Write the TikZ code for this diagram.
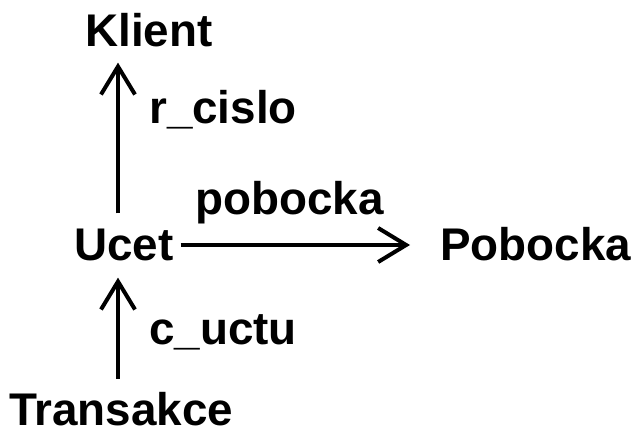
\documentclass[tikz,border=0pt]{standalone}
\usepackage{fontspec}
\setmainfont{Liberation Sans}
\usetikzlibrary{arrows.meta}
\begin{document}
\begin{tikzpicture}[x=1pt,y=1pt,
  lbl/.style={inner sep=0pt, anchor=base west, font=\fontsize{45.8}{50}\selectfont\bfseries},
  arr/.style={line width=4pt, -{Straight Barb[length=28pt,width=34pt,line width=4pt]}}]
\useasboundingbox (0,0) rectangle (634,431);
\node[lbl] (klient) at (85,384) {Klient};
\node[lbl] (rcislo) at (149,307) {r\_cislo};
\node[lbl] (pobl) at (195,216) {pobocka};
\node[lbl] (ucet) at (74,170) {Ucet};
\node[lbl] (pobocka) at (440,170) {Pobocka};
\node[lbl] (cuctu) at (149,86) {c\_uctu};
\node[lbl] (transakce) at (9,6) {Transakce};
\coordinate (vx) at (118,0);
\coordinate (hy) at (0,186);
\draw[arr, shorten <=16pt, shorten >=15pt] (ucet.north -| vx) -- (klient.south -| vx);
\draw[arr, shorten <=13pt, shorten >=16pt] (transakce.north -| vx) -- (ucet.south -| vx);
\draw[arr, shorten <=7pt, shorten >=30pt] (ucet.east |- hy) -- (pobocka.west |- hy);
\end{tikzpicture}
\end{document}
